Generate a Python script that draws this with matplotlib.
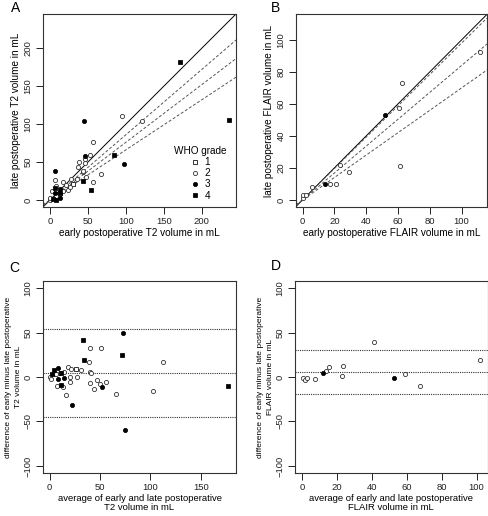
import matplotlib
matplotlib.use("Agg")
import matplotlib.pyplot as plt
import numpy as np

plt.rcParams['font.family'] = ['Liberation Sans', 'DejaVu Sans']

# ---- T2 data (early, late, WHO grade) ----
early_t2 = [0.5, 0.2, 3.8, 8.4, 6.9, 8.1, 13.2, 2.3, 7.0, 12.7, 7.0, 13.7, 7.7, 13.6, 17.2,
            6.6, 23.3, 17.2, 20.7, 26.0, 6.0, 30.3, 27.2, 35.2, 54.4, 43.8, 47.7, 56.7, 43.4,
            43.0, 37.2, 37.5, 45.7, 45.6, 67.8, 46.5, 52.6, 56.5, 84.0, 97.0, 44.7, 95.3,
            121.4, 172.0, 236.0]
late_t2 = [0.5, 2.8, 0.8, 0.2, 3.1, 5.1, 2.7, 12.3, 9.6, 7.8, 15.6, 8.8, 18.7, 14.3, 11.2,
           26.6, 12.4, 23.2, 20.3, 17.0, 37.8, 21.3, 27.2, 27.0, 12.5, 24.4, 30.5, 24.1, 37.4,
           38.5, 43.6, 50.5, 49.1, 53.8, 34.8, 58.1, 58.6, 76.0, 59.0, 48.0, 104.3, 110.7,
           104.5, 182.0, 106.0]
grade_t2 = [2, 2, 4, 4, 2, 2, 3, 2, 3, 2, 4, 4, 2, 3, 2,
            2, 2, 2, 2, 2, 3, 1, 2, 2, 4, 4, 2, 2, 2,
            2, 2, 2, 2, 2, 2, 3, 2, 2, 4, 3, 3, 2,
            2, 4, 4]

# ---- FLAIR data ----
early_fl = [0.0, 0.0, 2.0, 5.8, 14.0, 17.0, 21.0, 23.3, 29.5, 61.0, 51.9, 60.6, 62.5, 111.9]
late_fl = [1.0, 3.0, 3.0, 8.3, 10.0, 10.0, 9.7, 21.8, 17.5, 21.2, 53.0, 57.2, 73.0, 92.3]
grade_fl = [2, 2, 2, 2, 3, 2, 2, 2, 2, 2, 3, 2, 2, 2]

# regression slopes (lower CI, estimate, upper CI)
slopes_t2 = [0.66, 0.76, 0.86]
slopes_fl = [0.70, 0.84, 0.98]
# Bland-Altman lines (lower limit, mean, upper limit)
ba_t2 = [-45.0, 4.3, 53.6]
ba_fl = [-18.7, 6.0, 30.0]

legend_grades = ['1', '2', '3', '4']

W, H = 488, 516
fig = plt.figure(figsize=(W / 100, H / 100), dpi=100)


def ax_at(l, t, r, b):
    return fig.add_axes([l / W, 1 - b / H, (r - l) / W, (b - t) / H])


axA = ax_at(43, 14, 236, 207)
axB = ax_at(296, 14, 487, 207)
axC = ax_at(43, 281, 236, 473)
axD = ax_at(295, 281, 487.5, 473)

styles = {
    1: dict(marker='s', mfc='white', mec='black', ms=2.8),
    2: dict(marker='o', mfc='white', mec='#222222', ms=3.0),
    3: dict(marker='o', mfc='black', mec='black', ms=3.0),
    4: dict(marker='s', mfc='black', mec='black', ms=2.8),
}


def scatter_grades(ax, x, y, g):
    x = np.asarray(x); y = np.asarray(y); g = np.asarray(g)
    for gr in [1, 2, 3, 4]:
        m = g == gr
        if m.any():
            ax.plot(x[m], y[m], ls='none', mew=0.55, zorder=3, **styles[gr])


def style_axes(ax):
    for s in ax.spines.values():
        s.set_linewidth(0.8)
        s.set_color('#333333')
    ax.tick_params(direction='out', length=5, width=0.7, labelsize=6.8, pad=2.5, colors='#222222')
    for lab in ax.get_yticklabels():
        lab.set_rotation(90)
        lab.set_va('center')


LBL = 7.2

# Panel A
scatter_grades(axA, early_t2, late_t2, grade_t2)
axA.axline((0, 0), slope=1, color='black', lw=0.7)
for s in slopes_t2:
    axA.axline((0, 0), slope=s, color='#555555', lw=0.7, ls=(0, (3, 2)))
axA.set_xlim(-9.4, 245.4)
axA.set_ylim(-9.4, 245.4)
axA.set_xticks([0, 50, 100, 150, 200])
axA.set_yticks([0, 50, 100, 150, 200])
axA.set_xlabel('early postoperative T2 volume in mL', fontsize=LBL, labelpad=1.5)
axA.set_ylabel('late postoperative T2 volume in mL', fontsize=LBL, labelpad=1.5)
style_axes(axA)
handles = [plt.Line2D([], [], ls='none', mew=0.55, **styles[i + 1]) for i in range(4)]
leg = axA.legend(handles, legend_grades, title='WHO grade', frameon=False, fontsize=LBL,
                 title_fontsize=LBL, loc='center', bbox_to_anchor=(0.815, 0.175),
                 handlelength=1.0, handletextpad=0.4, labelspacing=0.12, borderpad=0.2)

# Panel B
scatter_grades(axB, early_fl, late_fl, grade_fl)
axB.axline((0, 0), slope=1, color='black', lw=0.7)
for s in slopes_fl:
    axB.axline((0, 0), slope=s, color='#555555', lw=0.7, ls=(0, (3, 2)))
axB.set_xlim(-4.1, 116)
axB.set_ylim(-4.4, 116.2)
axB.set_xticks([0, 20, 40, 60, 80, 100])
axB.set_yticks([0, 20, 40, 60, 80, 100])
axB.set_xlabel('early postoperative FLAIR volume in mL', fontsize=LBL, labelpad=1.5)
axB.set_ylabel('late postoperative FLAIR volume in mL', fontsize=LBL, labelpad=1.5)
style_axes(axB)

# Panel C
e = np.asarray(early_t2); l = np.asarray(late_t2)
scatter_grades(axC, (e + l) / 2, e - l, grade_t2)
for v in ba_t2:
    axC.axhline(v, color='#333333', lw=0.8, ls=(0, (1, 1)))
axC.set_xlim(-6.6, 185)
axC.set_ylim(-108, 108)
axC.set_xticks([0, 50, 100, 150])
axC.set_yticks([-100, -50, 0, 50, 100])
axC.set_xlabel('average of early and late postoperative\nT2 volume in mL', fontsize=6.8,
               labelpad=1.0, linespacing=1.05)
axC.set_ylabel('difference of early minus late postoperative\nT2 volume in mL', fontsize=6.0,
               labelpad=1.0, linespacing=1.55)
style_axes(axC)

# Panel D
e = np.asarray(early_fl); l = np.asarray(late_fl)
scatter_grades(axD, (e + l) / 2, e - l, grade_fl)
for v in ba_fl:
    axD.axhline(v, color='#333333', lw=0.8, ls=(0, (1, 1)))
axD.set_xlim(-4.2, 106.3)
axD.set_ylim(-108, 108)
axD.set_xticks([0, 20, 40, 60, 80, 100])
axD.set_yticks([-100, -50, 0, 50, 100])
axD.set_xlabel('average of early and late postoperative\nFLAIR volume in mL', fontsize=6.8,
               labelpad=1.0, linespacing=1.05)
axD.set_ylabel('difference of early minus late postoperative\nFLAIR volume in mL', fontsize=6.0,
               labelpad=1.0, linespacing=1.55)
style_axes(axD)

for lab, x, y in [('A', 16, 8), ('B', 275, 8), ('C', 14, 268), ('D', 276, 266)]:
    fig.text(x / W, 1 - y / H, lab, fontsize=10, ha='center', va='center')

fig.savefig('out.png', dpi=100)
